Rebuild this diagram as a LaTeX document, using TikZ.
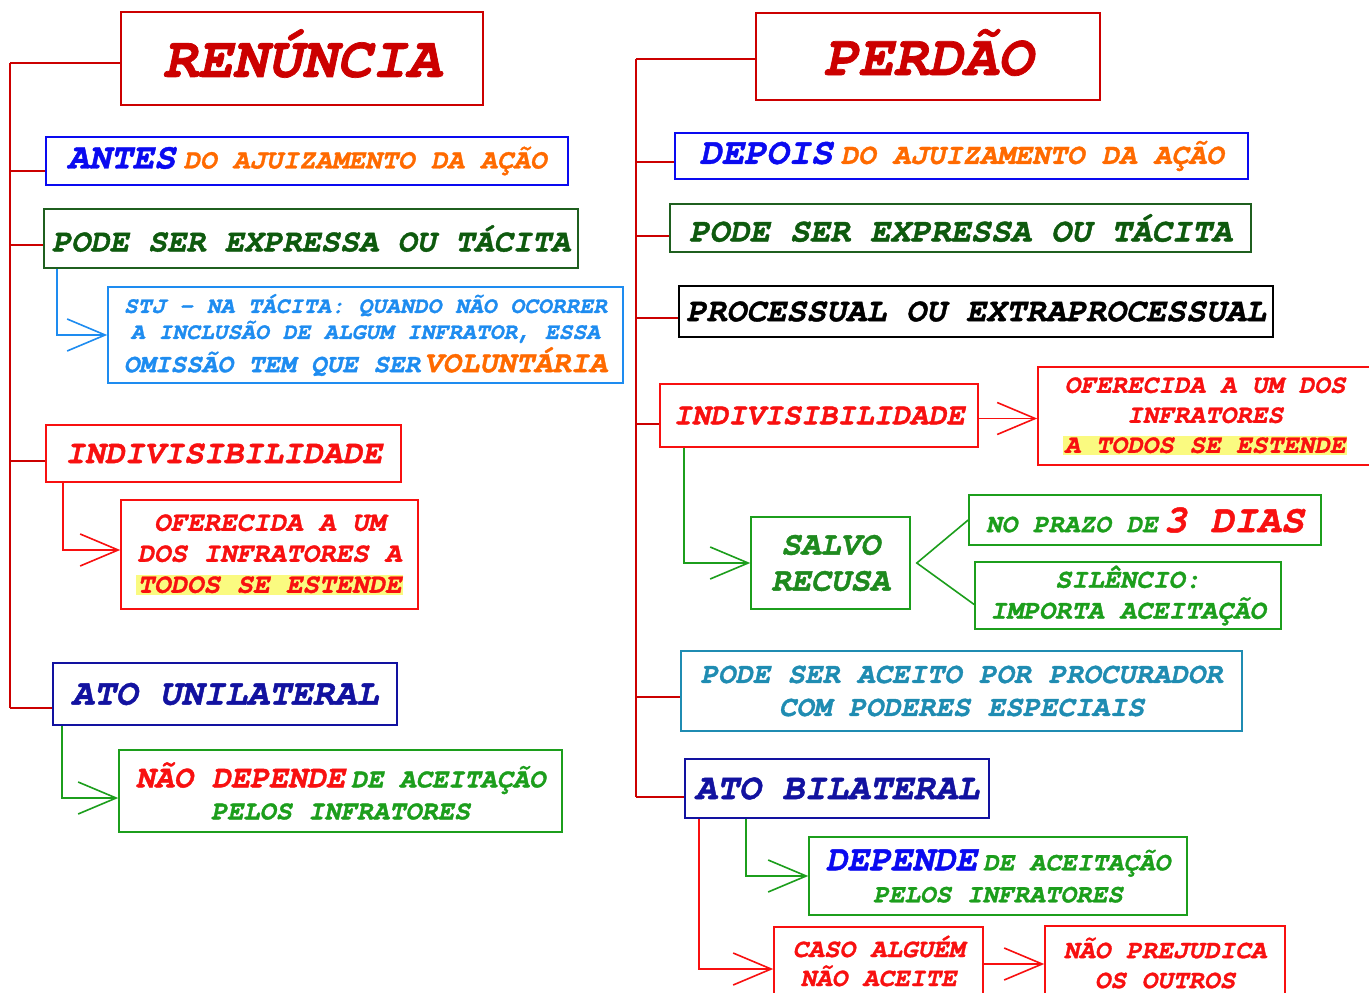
\documentclass[tikz,border=0pt]{standalone}
\usepackage{fontspec}
\setmainfont{texgyrecursor}[Extension=.otf, UprightFont=*-regular, BoldFont=*-bold, ItalicFont=*-italic, BoldItalicFont=*-bolditalic, BoldItalicFeatures={FakeBold=1.2}]
\usetikzlibrary{arrows.meta}
\definecolor{dred}{HTML}{CC0000}
\definecolor{rd}{HTML}{F81010}
\definecolor{bl}{HTML}{0A0AF0}
\definecolor{org}{HTML}{FF6A00}
\definecolor{dgr}{HTML}{0E5A0E}
\definecolor{dgrb}{HTML}{1F5F1F}
\definecolor{lbl}{HTML}{1E8CF0}
\definecolor{nav}{HTML}{1212A0}
\definecolor{gr}{HTML}{1C9E1C}
\definecolor{sgr}{HTML}{1E8A1E}
\definecolor{tl}{HTML}{1F8CB2}
\definecolor{hly}{HTML}{FAFA80}
\newcommand\Fz[2]{\fontsize{#1pt}{#2pt}\selectfont\bfseries\itshape}
\newcommand\hlt[1]{{\setlength\fboxsep{1.5pt}\colorbox{hly}{#1}}}
\begin{document}
\begin{tikzpicture}[x=1pt,y=-1pt,
  box/.style={draw=#1, line width=1.6pt, inner sep=0pt, align=center},
  wire/.style={draw=#1, line width=1.6pt},
  arr/.style={wire=#1, -{Straight Barb[length=38pt,width=32pt]}},
]
\path[use as bounding box, clip] (0,0) rectangle (1369,993);
\fill[white] (0,0) rectangle (1369,993);

% ---------- left column: RENUNCIA ----------
\node[box=dred, minimum width=362pt, minimum height=93pt, text=dred, font=\Fz{58}{60}] (ren) at (302,58.5) {\raisebox{5pt}[\height][\depth]{RENÚNCIA}};
\node[box=bl, minimum width=522pt, minimum height=48pt, font=\Fz{27.5}{30}] (ante) at (307,161)
  {{\color{bl}\Fz{36}{40}ANTES}\hspace{8pt}{\color{org}DO AJUIZAMENTO DA AÇÃO}};
\node[box=dgrb, minimum width=534pt, minimum height=59pt, text=dgr, font=\Fz{32}{36}] (podeL) at (311,238.5)
  {PODE SER EXPRESSA OU TÁCITA};
\node[box=lbl, minimum width=515pt, minimum height=96pt, text=lbl, font=\Fz{23}{26}] (stj) at (365.5,335)
  {STJ - NA TÁCITA: QUANDO NÃO OCORRER\\A INCLUSÃO DE ALGUM INFRATOR, ESSA\\[3pt]{\Fz{26}{28}OMISSÃO TEM QUE SER}\hspace{4pt}{\color{org}\Fz{30.5}{32}VOLUNTÁRIA}};
\node[box=rd, minimum width=355pt, minimum height=57pt, text=rd, font=\Fz{33}{36}] (indL) at (223.5,453.5)
  {INDIVISIBILIDADE};
\node[box=rd, minimum width=297pt, minimum height=109pt, text=rd, font=\Fz{27.5}{31}] (oferL) at (269.5,554.5)
  {OFERECIDA A UM\\DOS INFRATORES A\\\hlt{TODOS SE ESTENDE}};
\node[box=nav, minimum width=344pt, minimum height=62pt, text=nav, font=\Fz{36.5}{40}] (atoU) at (225,694)
  {ATO UNILATERAL};
\node[box=gr, minimum width=443pt, minimum height=82pt, text=gr, font=\Fz{27}{32}] (naoDep) at (340.5,791)
  {{\color{rd}\Fz{31.7}{34}NÃO DEPENDE}\hspace{6pt}DE ACEITAÇÃO\\PELOS INFRATORES};

% ---------- right column: PERDAO ----------
\node[box=dred, minimum width=344pt, minimum height=87pt, text=dred, font=\Fz{58}{60}] (per) at (928,56.5) {\raisebox{4pt}[\height][\depth]{PERDÃO}};
\node[box=bl, minimum width=573pt, minimum height=46pt, font=\Fz{29}{32}] (depois) at (961.5,156)
  {{\color{bl}\Fz{37}{40}DEPOIS}\hspace{8pt}{\color{org}DO AJUIZAMENTO DA AÇÃO}};
\node[box=dgrb, minimum width=581pt, minimum height=48pt, text=dgr, font=\Fz{33.5}{36}] (podeR) at (960.5,228)
  {PODE SER EXPRESSA OU TÁCITA};
\node[box=black, minimum width=594pt, minimum height=51pt, text=black, font=\Fz{33.3}{36}] (proc) at (976,311.5)
  {PROCESSUAL OU EXTRAPROCESSUAL};
\node[box=rd, minimum width=318pt, minimum height=63pt, text=rd, font=\Fz{30.3}{34}] (indR) at (819,415.5)
  {INDIVISIBILIDADE};
\node[box=rd, minimum width=334pt, minimum height=98pt, text=rd, font=\Fz{26}{30}] (oferR) at (1205,416)
  {OFERECIDA A UM DOS\\INFRATORES\\\hlt{A TODOS SE ESTENDE}};
\node[box=gr, minimum width=159pt, minimum height=92pt, text=sgr, font=\Fz{33}{36}] (salvo) at (830.5,563)
  {SALVO\\RECUSA};
\node[box=gr, minimum width=352pt, minimum height=50pt, text=gr, font=\Fz{26}{28}] (prazo) at (1145,520)
  {NO PRAZO DE\hspace{6pt}{\color{rd}\Fz{39}{40}3 DIAS}};
\node[box=gr, minimum width=306pt, minimum height=67pt, text=gr, font=\Fz{27}{31}] (sil) at (1128,595.5)
  {SILÊNCIO:\\IMPORTA ACEITAÇÃO};
\node[box=tl, minimum width=561pt, minimum height=80pt, text=tl, font=\Fz{29}{33}] (aceito) at (961.5,691)
  {PODE SER ACEITO POR PROCURADOR\\COM PODERES ESPECIAIS};
\node[box=nav, minimum width=304pt, minimum height=59pt, text=nav, font=\Fz{36.4}{40}] (atoB) at (837,788.5)
  {ATO BILATERAL};
\node[box=gr, minimum width=378pt, minimum height=78pt, text=gr, font=\Fz{26}{32}] (depende) at (998,876)
  {{\color{bl}\Fz{36}{38}DEPENDE}\hspace{6pt}DE ACEITAÇÃO\\PELOS INFRATORES};
\node[box=rd, minimum width=209pt, minimum height=68pt, text=rd, font=\Fz{26}{29}] (caso) at (878.5,961)
  {CASO ALGUÉM\\NÃO ACEITE};
\node[box=rd, minimum width=240pt, minimum height=74pt, text=rd, font=\Fz{26}{30}] (naoPrej) at (1165,963)
  {NÃO PREJUDICA\\OS OUTROS};

% ---------- trunks and branches ----------
\coordinate (tL) at (10,0);
\coordinate (tR) at (636,0);
\coordinate (bRen) at ([yshift=-4.5pt]ren.west);
\coordinate (bAnte) at ([yshift=-10pt]ante.west);
\coordinate (bPodeL) at ([yshift=-6.5pt]podeL.west);
\coordinate (bIndL) at ([yshift=-7.5pt]indL.west);
\coordinate (bAtoU) at ([yshift=-14pt]atoU.west);
\draw[wire=dred] (tL |- bRen) -- (tL |- bAtoU);
\foreach \b in {bRen,bAnte,bPodeL,bIndL,bAtoU}
  \draw[wire=dred] (tL |- \b) -- (\b);

\coordinate (bPer) at ([yshift=-2.5pt]per.west);
\coordinate (bDepois) at ([yshift=-6pt]depois.west);
\coordinate (bPodeR) at ([yshift=-8pt]podeR.west);
\coordinate (bProc) at ([yshift=-6.5pt]proc.west);
\coordinate (bIndR) at ([yshift=-8.5pt]indR.west);
\coordinate (bAceito) at ([yshift=-6pt]aceito.west);
\coordinate (bAtoB) at ([yshift=-8.5pt]atoB.west);
\draw[wire=dred] (tR |- bPer) -- (tR |- bAtoB);
\foreach \b in {bPer,bDepois,bPodeR,bProc,bIndR,bAceito,bAtoB}
  \draw[wire=dred] (tR |- \b) -- (\b);

% ---------- sub connectors ----------
\draw[arr=lbl] ([xshift=14pt]podeL.south west) |- (stj.west);
\draw[arr=rd] ([xshift=18pt]indL.south west) |- ([yshift=4.5pt]oferL.west);
\draw[arr=gr] ([xshift=10pt]atoU.south west) |- ([yshift=-7pt]naoDep.west);

\draw[arr=rd] ([yshift=-3pt]indR.east) -- ([yshift=-3pt]indR.east -| oferR.west);
\draw[arr=gr] ([xshift=25pt]indR.south west) |- (salvo.west);
\coordinate (fk) at ([xshift=6pt]salvo.east);
\draw[wire=gr] (prazo.west) -- (fk) -- ([yshift=-9pt]sil.west);
\draw[arr=gr] ([xshift=62pt]atoB.south west) |- (depende.west);
\draw[arr=rd] ([xshift=15pt]atoB.south west) |- ([yshift=-8pt]caso.west);
\draw[arr=rd] ([yshift=-3pt]caso.east) -- ([yshift=-3pt]caso.east -| naoPrej.west);
\end{tikzpicture}
\end{document}
